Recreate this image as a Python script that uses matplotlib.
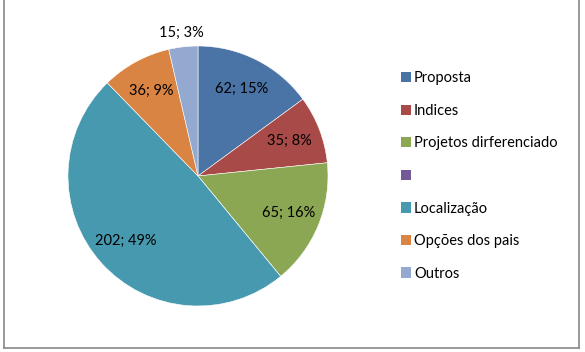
import numpy as np
import matplotlib
matplotlib.use("Agg")
import matplotlib.pyplot as plt
from matplotlib.lines import Line2D
from matplotlib.patches import Patch

plt.rcParams['font.family'] = ['Lato', 'DejaVu Sans']

categorias = ["Proposta", "Indices", "Projetos dirferenciado", "",
              "Localização", "Opções dos pais", "Outros"]
valores = [62, 35, 65, 0, 202, 36, 15]
percentuais = [15, 8, 16, 0, 49, 9, 3]  # como aparecem no gráfico
cores = ["#4A73A6", "#A84A48", "#8BA753", "#735A96",
         "#4699AF", "#DA8444", "#93A9CF"]

fig = plt.figure(figsize=(5.85, 3.52), dpi=100)

# eixo quadrado para a pizza, centro em (198, 176) px, raio 130 px
S = 300
cx, cy = 198, 176
ax = fig.add_axes([(cx - S / 2) / 585, (352 - cy - S / 2) / 352, S / 585, S / 352])
wedges, _ = ax.pie(valores, colors=cores, startangle=90, counterclock=False,
                   radius=1.0, wedgeprops=dict(edgecolor="white", linewidth=0.4))
L = S / 260
ax.set_xlim(-L, L)
ax.set_ylim(-L, L)
ax.set_aspect("equal")
ax.axis("off")

for w, v, p in zip(wedges, valores, percentuais):
    if v == 0:
        continue
    ang = np.deg2rad((w.theta1 + w.theta2) / 2)
    r = 0.75 if p > 5 else 1.11
    ax.text(r * np.cos(ang), r * np.sin(ang), f"{v}; {p}%",
            ha="center", va="center", fontsize=10.5, color="black")

handles = [Patch(facecolor=c, edgecolor="none") for c in cores]
fig.legend(handles, categorias, loc="center left",
           bbox_to_anchor=(395 / 585, 1 - 176 / 352), frameon=False,
           fontsize=10.5, handlelength=0.7, handleheight=0.7,
           handletextpad=0.2, labelspacing=1.27, borderaxespad=0)

# moldura do gráfico (topo cortado)
for xs, ys in [([4, 4], [0, 348]), ([579, 579], [0, 348]), ([4, 579], [348, 348])]:
    fig.add_artist(Line2D([x / 585 for x in xs], [1 - y / 352 for y in ys],
                          color="#888888", linewidth=1.2))

fig.savefig("out.png", dpi=100)
